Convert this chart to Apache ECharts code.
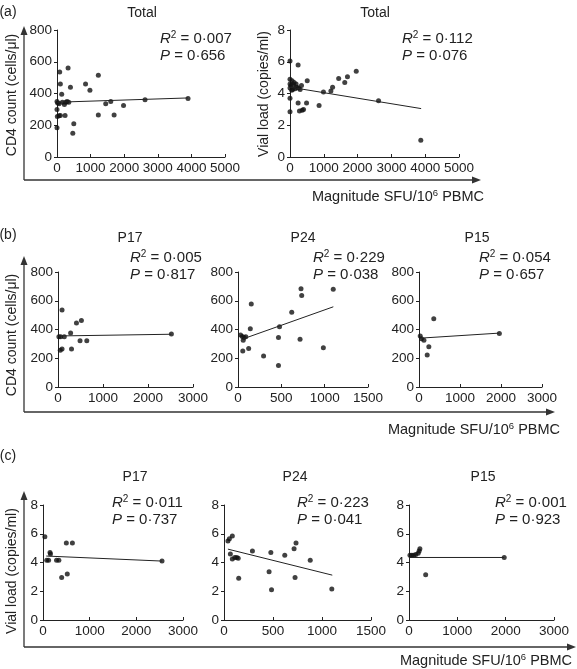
<!DOCTYPE html>
<html><head><meta charset="utf-8">
<script src="https://cdn.jsdelivr.net/npm/echarts@6/dist/echarts.min.js"></script>
<style>html,body{margin:0;padding:0;background:#fff}#c{width:577px;height:669px}</style>
</head><body><div id="c"></div>
<script>
// ---------- data ----------
const totalCD4 = [[80,535],[330,560],[100,460],[400,440],[140,395],[850,460],[980,420],[1230,515],[0,350],[20,340],[60,335],[160,345],[220,330],[260,345],[300,350],[350,345],[0,300],[10,255],[60,260],[100,262],[240,262],[0,185],[500,210],[470,150],[1230,265],[1450,335],[1600,350],[1700,265],[1980,325],[2620,360],[3900,368]];
const totalCD4Fit = [[0,345],[3900,372]];
const totalVL = [[0,6.05],[240,5.8],[0,4.9],[60,4.8],[120,4.7],[0,4.6],[30,4.5],[100,4.55],[180,4.6],[250,4.35],[340,4.5],[510,4.8],[0,4.35],[50,4.2],[80,4.25],[150,4.3],[200,4.4],[300,4.25],[0,3.7],[240,3.4],[490,3.4],[0,2.85],[280,2.9],[360,2.95],[400,3.0],[860,3.25],[990,4.1],[1210,4.15],[1260,4.4],[1440,4.95],[1620,4.7],[1700,5.05],[1960,5.4],[2620,3.55],[3870,1.05]];
const totalVLFit = [[0,4.4],[3880,3.05]];
const p17CD4 = [[90,535],[20,350],[60,350],[140,350],[280,375],[410,445],[520,462],[490,322],[640,322],[50,255],[90,265],[300,265],[2520,368]];
const p17CD4Fit = [[0,355],[2520,367]];
const p24CD4 = [[727,683],[1099,680],[735,636],[153,578],[620,520],[142,406],[479,420],[467,345],[716,333],[30,362],[50,352],[70,345],[90,350],[60,325],[55,250],[123,268],[295,216],[467,150],[985,273]];
const p24CD4Fit = [[60,335],[1100,558]];
const p15CD4 = [[30,355],[60,335],[120,326],[240,280],[200,222],[360,474],[1960,373]];
const p15CD4Fit = [[40,340],[1960,375]];
const p17VL = [[40,5.8],[500,5.35],[630,5.35],[150,4.7],[160,4.6],[80,4.15],[120,4.15],[290,4.15],[340,4.15],[400,2.95],[520,3.2],[2550,4.1]];
const p17VLFit = [[70,4.45],[2550,4.1]];
const p24VL = [[40,5.5],[55,5.65],[85,5.85],[65,4.6],[85,4.25],[110,4.35],[130,4.35],[145,4.3],[150,2.9],[290,4.8],[478,4.7],[460,3.35],[485,2.1],[620,4.5],[715,4.95],[735,5.35],[725,2.95],[880,4.15],[1100,2.15]];
const p24VLFit = [[40,4.93],[1105,3.12]];
const p15VL = [[20,4.5],[60,4.5],[100,4.5],[140,4.55],[190,4.65],[210,4.8],[225,4.95],[345,3.15],[1970,4.35]];
const p15VLFit = [[0,4.35],[1970,4.35]];

const panelTitles = ['Total','Total','P17','P24','P15','P17','P24','P15'];
const r2Values = ['0·007','0·112','0·005','0·229','0·054','0·011','0·223','0·001'];
const pValues = ['0·656','0·076','0·817','0·038','0·657','0·737','0·041','0·923'];
const xMaxes = [5000,5000,3000,1500,3000,3000,1500,3000];
const xSteps = [1000,1000,1000,500,1000,1000,500,1000];
const yMaxes = [800,8,800,800,800,8,8,8];
const ySteps = [200,2,200,200,200,2,2,2];
const scatterSets = [totalCD4,totalVL,p17CD4,p24CD4,p15CD4,p17VL,p24VL,p15VL];
const fitSets = [totalCD4Fit,totalVLFit,p17CD4Fit,p24CD4Fit,p15CD4Fit,p17VLFit,p24VLFit,p15VLFit];
const rowLetters = ['(a)','(b)','(c)'];
const yTitles = ['CD4 count (cells/μl)','Vial load (copies/ml)','CD4 count (cells/μl)','Vial load (copies/ml)'];

// ---------- layout ----------
const FONT = '"Liberation Sans", Arial, Helvetica, sans-serif';
const INK = '#222';
const grids = [
  {left:57, top:30, width:168, height:127},
  {left:290, top:30, width:169, height:127},
  {left:58, top:272, width:135, height:115},
  {left:238, top:272, width:130, height:115},
  {left:419, top:272, width:123, height:115},
  {left:43, top:505, width:140, height:115},
  {left:224, top:505, width:147, height:115},
  {left:409, top:505, width:145, height:115}
];
const titlePos = [[142,13],[375,13],[130,238],[303,238],[477,238],[135,477],[295,477],[483,477]];
const statPos = [[160,39],[402,39],[130,258],[313,258],[479,258],[112,503],[297,503],[495,503]];

const chart = echarts.init(document.getElementById('c'));
const plain = v => String(v);

const xAxes = grids.map((g,i)=>({
  gridIndex:i, type:'value', min:0, max:xMaxes[i], interval:xSteps[i],
  axisLine:{show:true,onZero:false,lineStyle:{color:INK,width:1}},
  axisTick:{show:true,inside:true,length:3,lineStyle:{color:INK}},
  axisLabel:{color:INK,fontSize:13.5,fontFamily:FONT,margin:4,formatter:plain},
  splitLine:{show:false}
}));
const yAxes = grids.map((g,i)=>({
  gridIndex:i, type:'value', min:0, max:yMaxes[i], interval:ySteps[i],
  axisLine:{show:true,onZero:false,lineStyle:{color:INK,width:1}},
  axisTick:{show:true,inside:false,length:3,lineStyle:{color:INK}},
  axisLabel:{color:INK,fontSize:13.5,fontFamily:FONT,margin:5,formatter:plain},
  splitLine:{show:false}
}));
const series = [];
grids.forEach((g,i)=>{
  series.push({type:'scatter', xAxisIndex:i, yAxisIndex:i, data:scatterSets[i], symbolSize:5,
    itemStyle:{color:'#111'}, silent:true, animation:false});
  series.push({type:'line', xAxisIndex:i, yAxisIndex:i, data:fitSets[i], showSymbol:false, symbol:'none',
    lineStyle:{color:INK,width:1}, silent:true, animation:false});
});

const graphic = [];
function text(x,y,t,extra){
  graphic.push(Object.assign({type:'text', x, y, silent:true,
    style:Object.assign({text:t, fill:INK, fontSize:14, fontFamily:FONT, align:'center', verticalAlign:'middle'}, (extra&&extra.style)||{})},
    extra?{rotation:extra.rotation||0}:{}));
}
const richStat = {
  i:{fontStyle:'italic',fontSize:15,fontFamily:FONT,fill:INK,color:INK},
  s:{fontSize:10,fontFamily:FONT,fill:INK,color:INK,padding:[0,0,8,0]},
  n:{fontSize:15,fontFamily:FONT,fill:INK,color:INK}
};
grids.forEach((g,i)=>{
  text(titlePos[i][0], titlePos[i][1], panelTitles[i]);
  graphic.push({type:'text', x:statPos[i][0], y:statPos[i][1], silent:true,
    style:{text:'{i|R}{s|2}{n| = '+r2Values[i]+'}', rich:richStat, align:'left', verticalAlign:'middle', fill:INK}});
  graphic.push({type:'text', x:statPos[i][0], y:statPos[i][1]+17, silent:true,
    style:{text:'{i|P}{n| = '+pValues[i]+'}', rich:richStat, align:'left', verticalAlign:'middle', fill:INK}});
});
// row letters
[[6,12],[6,235],[6,456]].forEach((p,k)=>text(p[0]+2,p[1],rowLetters[k]));
// y axis titles
[[12,95],[264,94],[12,335],[12,571]].forEach((p,k)=>text(p[0],p[1],yTitles[k],{rotation:Math.PI/2}));
// outer arrows
function arrow(x0,yTop,yBot,xRight){
  graphic.push({type:'line',silent:true,shape:{x1:x0,y1:yBot,x2:x0,y2:yTop+6},style:{stroke:'#333',lineWidth:1.3}});
  graphic.push({type:'polygon',silent:true,shape:{points:[[x0,yTop],[x0-3.5,yTop+9],[x0+3.5,yTop+9]]},style:{fill:'#333'}});
  graphic.push({type:'line',silent:true,shape:{x1:x0,y1:yBot,x2:xRight-6,y2:yBot},style:{stroke:'#333',lineWidth:1.3}});
  graphic.push({type:'polygon',silent:true,shape:{points:[[xRight,yBot],[xRight-9,yBot-3.5],[xRight-9,yBot+3.5]]},style:{fill:'#333'}});
}
arrow(24,26,180,481);
arrow(24,256,412,555);
arrow(24,491,647,576);
const richX = {n:{fontSize:14.5,fontFamily:FONT,fill:INK,color:INK}, s:{fontSize:9.5,fontFamily:FONT,fill:INK,color:INK,padding:[0,0,8,0]}};
[[398,197],[474,430],[486,661]].forEach(p=>{
  graphic.push({type:'text',x:p[0],y:p[1],silent:true,style:{text:'{n|Magnitude SFU/10}{s|6}{n| PBMC}',rich:richX,align:'center',verticalAlign:'middle',fill:INK}});
});

chart.setOption({
  animation:false,
  grid:grids.map(g=>Object.assign({containLabel:false},g)),
  xAxis:xAxes, yAxis:yAxes, series, graphic
});
</script></body></html>
